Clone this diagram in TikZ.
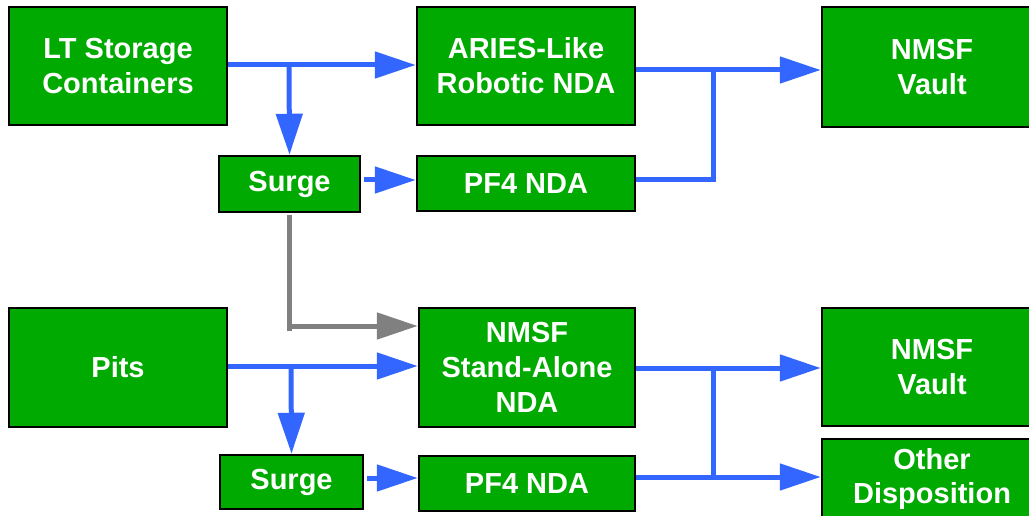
\documentclass[tikz,border=0pt]{standalone}
\usepackage{fontspec}
\setmainfont{Liberation Sans}
\usetikzlibrary{arrows.meta}
\definecolor{boxgreen}{RGB}{0,170,0}
\definecolor{flowblue}{RGB}{51,102,255}
\definecolor{flowgray}{RGB}{128,128,128}
\tikzset{
  box/.style={rectangle, draw=black, line width=2.5pt, fill=boxgreen, text=white,
    font=\fontsize{29}{35}\selectfont\bfseries, align=center, inner sep=0pt},
  bline/.style={draw=flowblue, line width=5pt},
  barr/.style={bline, -{Triangle[length=41pt,width=26pt]}},
  gline/.style={draw=flowgray, line width=5pt},
  garr/.style={gline, -{Triangle[length=41pt,width=26pt]}}
}
\begin{document}
\begin{tikzpicture}[x=1pt,y=-1pt]
\useasboundingbox (0,0) rectangle (1029,516);
% boxes
\node[box, minimum width=218pt, minimum height=118pt] (lt) at (118,66) {LT Storage\\Containers};
\node[box, minimum width=218pt, minimum height=118pt] (aries) at (526,66) {ARIES-Like\\Robotic NDA};
\node[box, minimum width=220pt, minimum height=120pt] (vault1) at (932,67) {NMSF\\Vault};
\node[box, minimum width=141pt, minimum height=56pt] (surge1) at (289.5,184) {Surge};
\node[box, minimum width=218pt, minimum height=55pt] (pf41) at (526,183.5) {PF4 NDA};
\node[box, minimum width=218pt, minimum height=119pt] (pits) at (118,367.5) {Pits};
\node[box, minimum width=216pt, minimum height=119pt] (sa) at (527,367.5) {NMSF\\Stand-Alone\\NDA};
\node[box, minimum width=220pt, minimum height=118pt] (vault2) at (932,367) {NMSF\\Vault};
\node[box, minimum width=143pt, minimum height=54pt] (surge2) at (291.5,482) {Surge};
\node[box, minimum width=216pt, minimum height=55pt] (pf42) at (527,483.5) {PF4 NDA};
\node[box, minimum width=220pt, minimum height=80pt] (other) at (932,479) {Other\\Disposition};
% junction coordinates
\coordinate (j1) at (289,65);
\coordinate (k1top) at (713,70);
\coordinate (k1bot) at (713,180);
\coordinate (gtop) at (289.5,215);
\coordinate (gbot) at (289.5,331);
\coordinate (j2) at (291,366);
\coordinate (k2top) at (713,368);
\coordinate (k2bot) at (713,477);
% upper flow
\draw[barr] ([yshift=1pt]lt.east) -- ([yshift=1pt]aries.west);
\draw[barr] (j1) -- (surge1.north);
\draw[barr] ([xshift=3pt,yshift=4pt]surge1.east) -- ([yshift=3.5pt]pf41.west);
\draw[barr] ([yshift=-4pt]aries.east) -- ([yshift=-3pt]vault1.west);
\draw[bline] ([yshift=3.5pt]pf41.east) -- (k1bot);
\draw[bline, line cap=rect] (k1top) -- (k1bot);
% gray link
\draw[gline] (gtop) -- (gbot);
\draw[garr] (gtop |- sa.west) ++(0,-41.5) -- ([yshift=41.5pt]sa.west);
% lower flow
\draw[barr] ([yshift=1.5pt]pits.east) -- ([yshift=1.5pt]sa.west);
\draw[barr] (j2) -- (surge2.north);
\draw[barr] ([xshift=3pt,yshift=4pt]surge2.east) -- ([yshift=5.5pt]pf42.west);
\draw[barr] ([yshift=-0.5pt]sa.east) -- ([yshift=-1pt]vault2.west);
\draw[bline] ([yshift=6.5pt]pf42.east) -- (k2bot);
\draw[bline, line cap=rect] (k2top) -- (k2bot);
\draw[barr] (k2bot) -- ([yshift=2pt]other.west);
\end{tikzpicture}
\end{document}
